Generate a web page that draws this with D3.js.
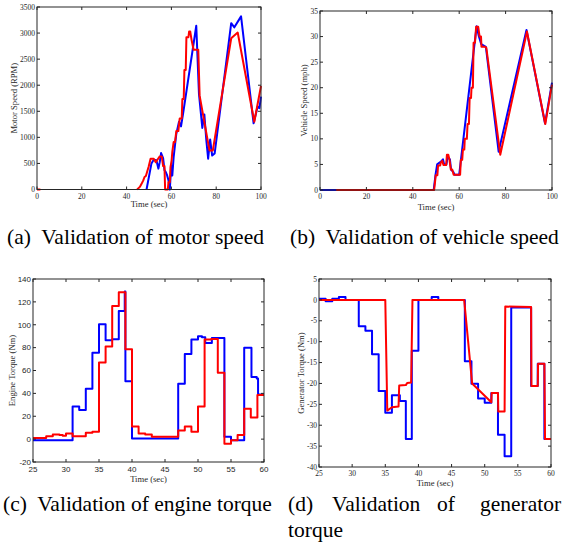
<!DOCTYPE html>
<html lang="en">
<head>
  <meta charset="UTF-8">
  <title>Validation plots</title>
  <script src="https://cdn.jsdelivr.net/npm/d3@7"></script>
  <style>
    body { margin: 0; background: #fff; }
    svg text { fill: #262626; font-family: "Liberation Serif", "Times New Roman", serif; }
    svg text.caption { font-size: 21.5px; fill: #000; }
  </style>
</head>
<body>
<script>
  // ---- data (time in sec, value) ----
  var timeTicksFull = [0, 20, 40, 60, 80, 100];
  var timeTicksZoom = [25, 30, 35, 40, 45, 50, 55, 60];
  var motorTicks = [0, 500, 1000, 1500, 2000, 2500, 3000, 3500];
  var vehicleTicks = [0, 5, 10, 15, 20, 25, 30, 35];
  var engineTicks = [-20, 0, 20, 40, 60, 80, 100, 120, 140];
  var genTicks = [-40, -35, -30, -25, -20, -15, -10, -5, 0, 5];

  var motorBlue = [[48.9,0],[51.1,500],[52.1,570],[53.3,560],[54.2,400],[54.8,525],[55.4,700],[56.3,600],
    [56.9,370],[57.5,335],[58.1,270],[58.7,175],[59.3,0],[59.9,460],[60.4,270],[61.0,620],[61.6,850],
    [62.2,1070],[63.4,1300],[64.3,1210],[65.2,1450],[71.1,3140],[72.3,1840],[73.8,1180],[74.7,1440],
    [75.6,940],[76.4,590],[77.3,960],[78.2,650],[79.3,690],[86.7,3190],[88.1,3110],[91.1,3320],
    [96.7,1270],[98.5,1590],[99.3,1560],[100,1780]];
  var motorRed = [[0,0],[1.5,0],[1.5,null],[44.7,0],[45.9,50],[46.8,120],[47.4,170],[48.0,240],[48.6,260],
    [49.8,430],[50.7,590],[52.1,590],[53.0,525],[53.6,560],[54.8,635],[55.7,635],[56.3,450],[56.9,450],
    [57.2,0],[58.4,0],[58.7,140],[59.3,140],[59.6,430],[60.1,560],[60.4,720],[61.0,910],[61.6,910],
    [62.2,1120],[63.1,1120],[63.7,1360],[64.6,1360],[64.9,1735],[65.5,1735],[65.8,2290],[66.4,2290],
    [66.7,2920],[67.6,2920],[67.9,3030],[68.4,3030],[69.0,2870],[69.9,2680],[72.0,2680],[72.6,1800],
    [77.0,750],[78.5,750],[86.7,2900],[89.6,3010],[97.0,1300],[100,1985]];

  var vehicleBlue = [[0,0],[49,0],[49.8,3],[50.5,5],[52,5.5],[53,6],[53.5,5],[54.5,5],[55,6.5],[56,6],
    [56.5,4],[57.5,3.5],[58,3],[60,3],[67.5,32],[68.5,30],[69.5,28.5],[71.5,28],[77,7.5],[89,31.3],
    [97,13],[100,21]];
  var vehicleRed = [[7,0],[49.2,0],[49.9,2.9],[50.6,2.9],[50.9,4.8],[51.8,4.8],[52.1,5.4],[52.7,5.7],
    [53.2,4.9],[54.4,4.9],[54.7,6.9],[55.3,6.9],[55.8,5.9],[56.4,4.0],[57.0,4.0],[57.6,3.0],[60.4,3.0],
    [60.7,5.9],[61.3,5.9],[61.6,7.9],[62.2,7.9],[62.4,10.0],[63.3,10.0],[63.6,12.9],[64.2,12.9],
    [64.5,18],[65.1,18],[65.3,20],[65.9,20],[66.2,28.8],[66.8,28.8],[67.3,31.9],[68.2,31.9],[68.8,30.0],
    [69.4,30.0],[69.6,28],[71.1,28],[71.7,27.8],[77.7,6.9],[89.2,31.0],[97.1,12.9],[100,20.6]];

  // engine torque + generator blue are held values (step after)
  var engineBlue = [[25,-1],[31,28.5],[32,25.5],[33,44],[34,75.5],[35,100.5],[36,86.5],[37,87.3],
    [38,112],[38.9,129],[39,50.5],[40,0.5],[47,48.5],[48,74.5],[49,87],[50,90],[50.6,89],[51.1,84],
    [52.1,88.4],[54,2],[55,-1],[57,80],[58.1,54.3],[58.9,53],[59.1,39],[60,39]];
  var engineRed = [[25,1],[27,2.5],[28,4],[29,3.5],[29.5,3],[30,5],[31,2.5],[33,5.5],[34,6.5],[35,67],
    [36,81],[37,116.5],[38,128.5],[39,78.5],[40,11],[41,5],[42,4],[43,2],[47,7.5],[48,11],[49,6.5],
    [50,28.5],[51,87],[52,87.5],[53,58],[54,-4],[55,-1],[56,3.5],[57,26.5],[58,19],[59,38.5],[60,38.5]];

  var genBlue = [[25,0.3],[26,-0.3],[27,0.3],[28,0.7],[29,0],[31,-6.3],[32,-7.4],[33,-13],[34,-21.8],
    [35,-27],[36,-22.8],[37.2,-24.2],[38.1,-33.3],[39,-12.2],[40,0],[42,0.7],[43,0],[47,-14.7],
    [48,-20.1],[49,-23.6],[50,-24.6],[51,-22.3],[52,-32.3],[53,-37.4],[54,-1.8],[57,-20.6],[58,-15.3],
    [59,-33.3],[60,-33.3]];
  var genRed = [[25,0],[35,0],[35.3,-26.5],[36,-25.7],[37,-25.5],[37.1,-20.5],[38.1,-20.4],[38.3,-19.9],
    [38.9,-19.8],[39.1,0],[46.9,0],[48.1,-20],[51,-24.5],[51.05,-22.3],[52,-22.3],[52.05,-26.7],
    [53,-26.7],[53.1,-1.6],[57,-1.7],[57.05,-20.6],[58,-20.6],[58.05,-15.3],[59,-15.3],[59.1,-33.3],
    [60,-33.3]];

  var svg = d3.select("body").append("svg")
      .attr("width", 563).attr("height", 548);

  // one panel = box with inward ticks on all sides, like the matlab figures
  function panel(o) {
    var x = d3.scaleLinear().domain(o.xd).range([o.l, o.r]);
    var y = d3.scaleLinear().domain(o.yd).range([o.b, o.t]);
    var g = svg.append("g");
    var tick = 3;
    var tickFont = o.sans ? "'Liberation Sans', Arial, sans-serif" : "'Liberation Serif', 'Times New Roman', serif";

    function mkLine(step) {
      return d3.line()
        .defined(function(d) { return d[1] != null; })
        .x(function(d) { return x(d[0]); })
        .y(function(d) { return y(d[1]); })
        .curve(step ? d3.curveStepAfter : d3.curveLinear);
    }

    g.append("path").datum(o.blue).attr("d", mkLine(o.blueStep))
      .attr("fill", "none").attr("stroke", "#0000ff").attr("stroke-width", 2)
      .attr("stroke-linejoin", "round");
    g.append("path").datum(o.red).attr("d", mkLine(o.redStep))
      .attr("fill", "none").attr("stroke", "#ff0000").attr("stroke-width", 2)
      .attr("stroke-linejoin", "round");

    g.append("rect")
      .attr("x", o.l).attr("y", o.t).attr("width", o.r - o.l).attr("height", o.b - o.t)
      .attr("fill", "none").attr("stroke", "#262626").attr("stroke-width", 1);

    // x ticks
    o.xt.forEach(function(v) {
      g.append("line").attr("x1", x(v)).attr("x2", x(v)).attr("y1", o.b).attr("y2", o.b - tick)
        .attr("stroke", "#262626");
      g.append("line").attr("x1", x(v)).attr("x2", x(v)).attr("y1", o.t).attr("y2", o.t + tick)
        .attr("stroke", "#262626");
      g.append("text").attr("x", x(v)).attr("y", o.b + o.xto)
        .attr("text-anchor", "middle").style("font-size", o.tf + "px")
        .style("font-family", tickFont).text(v);
    });
    // y ticks
    o.yt.forEach(function(v) {
      g.append("line").attr("x1", o.l).attr("x2", o.l + tick).attr("y1", y(v)).attr("y2", y(v))
        .attr("stroke", "#262626");
      g.append("line").attr("x1", o.r).attr("x2", o.r - tick).attr("y1", y(v)).attr("y2", y(v))
        .attr("stroke", "#262626");
      g.append("text").attr("x", o.l - 2).attr("y", y(v)).attr("dy", "0.35em")
        .attr("text-anchor", "end").style("font-size", o.tf + "px")
        .style("font-family", tickFont).text(v);
    });

    g.append("text").attr("x", (o.l + o.r) / 2).attr("y", o.xly)
      .attr("text-anchor", "middle").style("font-size", "8.6px").text("Time (sec)");
    g.append("text")
      .attr("transform", "translate(" + o.ylx + "," + (o.t + o.b) / 2 + ") rotate(-90)")
      .attr("text-anchor", "middle").style("font-size", "8.6px").text(o.ylabel);
  }

  panel({ l: 37, r: 261, t: 7, b: 189.5, xd: [0, 100], yd: [0, 3500], xt: timeTicksFull, yt: motorTicks,
          blue: motorBlue, red: motorRed, tf: 7.5, xto: 9, xly: 207, ylx: 17, ylabel: "Motor Speed (RPM)" });
  panel({ l: 320, r: 552, t: 11, b: 190, xd: [0, 100], yd: [0, 35], xt: timeTicksFull, yt: vehicleTicks,
          blue: vehicleBlue, red: vehicleRed, tf: 7.5, xto: 9, xly: 210, ylx: 307, ylabel: "Vehicle Speed (mph)" });
  panel({ l: 33, r: 264, t: 279, b: 462, xd: [25, 60], yd: [-20, 140], xt: timeTicksZoom, yt: engineTicks,
          blue: engineBlue, red: engineRed, tf: 8, sans: true, blueStep: true, redStep: true, xto: 10,
          xly: 482, ylx: 15, ylabel: "Engine Torque (Nm)" });
  panel({ l: 319, r: 551, t: 279, b: 467, xd: [25, 60], yd: [-40, 5], xt: timeTicksZoom, yt: genTicks,
          blue: genBlue, red: genRed, tf: 7.5, blueStep: true, redStep: false, xto: 9, xly: 486, ylx: 304,
          ylabel: "Generator Torque (Nm)" });

  // captions
  function cap(x, y, s) {
    svg.append("text").attr("class", "caption").attr("x", x).attr("y", y)
      .attr("xml:space", "preserve").style("white-space", "pre").text(s);
  }
  cap(7, 244, "(a)  Validation of motor speed");
  cap(290, 244, "(b)  Validation of vehicle speed");
  cap(3, 511, "(c)  Validation of engine torque");
  cap(288, 511, "(d)");
  cap(332, 511, "Validation");
  cap(437, 511, "of");
  cap(480, 511, "generator");
  cap(288, 537, "torque");
</script>
</body>
</html>
